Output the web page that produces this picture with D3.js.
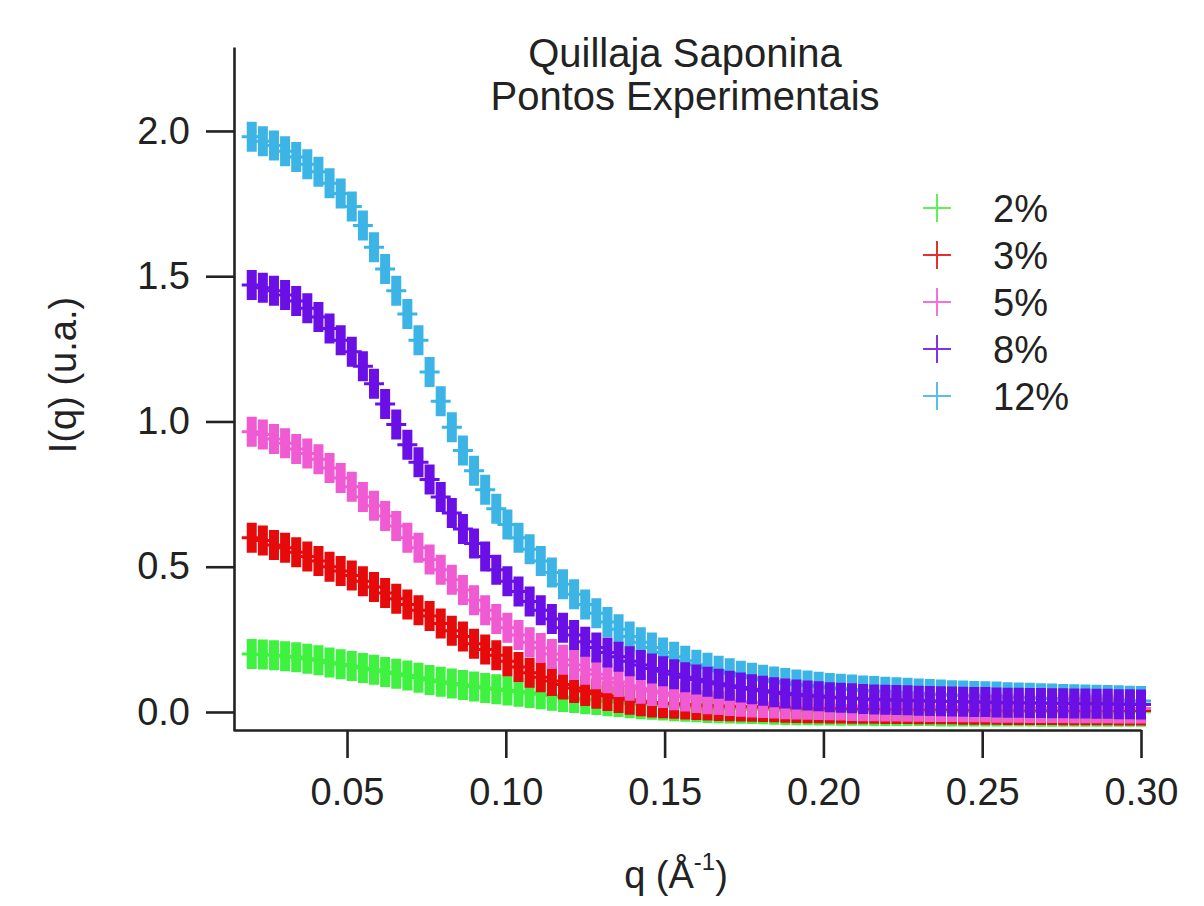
<!DOCTYPE html>
<html>
<head>
<meta charset="utf-8">
<script src="https://cdn.jsdelivr.net/npm/d3@7"></script>
<style>
  body { margin: 0; background: #fff; }
  text { font-family: "Liberation Sans", Arial, sans-serif; fill: #222; }
</style>
</head>
<body>
<script>
// q values (1/A)
var qValues = [
  0.0200, 0.0235, 0.0270, 0.0305, 0.0340, 0.0375, 0.0410, 0.0445, 0.0480, 0.0515,
  0.0550, 0.0585, 0.0620, 0.0655, 0.0690, 0.0725, 0.0760, 0.0795, 0.0830, 0.0865,
  0.0900, 0.0935, 0.0970, 0.1005, 0.1040, 0.1075, 0.1110, 0.1145, 0.1180, 0.1215,
  0.1250, 0.1285, 0.1320, 0.1355, 0.1390, 0.1425, 0.1460, 0.1495, 0.1530, 0.1565,
  0.1600, 0.1635, 0.1670, 0.1705, 0.1740, 0.1775, 0.1810, 0.1845, 0.1880, 0.1915,
  0.1950, 0.1985, 0.2020, 0.2055, 0.2090, 0.2125, 0.2160, 0.2195, 0.2230, 0.2265,
  0.2300, 0.2335, 0.2370, 0.2405, 0.2440, 0.2475, 0.2510, 0.2545, 0.2580, 0.2615,
  0.2650, 0.2685, 0.2720, 0.2755, 0.2790, 0.2825, 0.2860, 0.2895, 0.2930, 0.2965,
  0.3000
];

// I(q) for each concentration
var i2 = [
  0.200, 0.198, 0.195, 0.192, 0.188, 0.183, 0.178, 0.170, 0.164, 0.158,
  0.151, 0.145, 0.138, 0.132, 0.126, 0.118, 0.110, 0.104, 0.098, 0.093,
  0.088, 0.083, 0.078, 0.074, 0.070, 0.065, 0.061, 0.056, 0.052, 0.048,
  0.044, 0.041, 0.037, 0.034, 0.030, 0.027, 0.025, 0.022, 0.020, 0.018,
  0.016, 0.014, 0.013, 0.012, 0.011, 0.010, 0.009, 0.008, 0.007, 0.006,
  0.006, 0.005, 0.005, 0.004, 0.004, 0.004, 0.003, 0.003, 0.003, 0.003,
  0.003, 0.003, 0.002, 0.002, 0.002, 0.002, 0.002, 0.002, 0.002, 0.002,
  0.002, 0.001, 0.001, 0.001, 0.001, 0.001, 0.001, 0.001, 0.001, 0.001,
  0.001
];
var i3 = [
  0.600, 0.590, 0.575, 0.565, 0.550, 0.535, 0.520, 0.500, 0.485, 0.470,
  0.450, 0.430, 0.410, 0.390, 0.370, 0.350, 0.330, 0.305, 0.280, 0.260,
  0.235, 0.215, 0.195, 0.175, 0.155, 0.135, 0.120, 0.107, 0.095, 0.083,
  0.072, 0.063, 0.055, 0.048, 0.042, 0.037, 0.033, 0.030, 0.028, 0.026,
  0.024, 0.022, 0.021, 0.020, 0.019, 0.018, 0.017, 0.016, 0.015, 0.014,
  0.013, 0.013, 0.012, 0.012, 0.011, 0.011, 0.011, 0.010, 0.010, 0.010,
  0.009, 0.009, 0.009, 0.009, 0.008, 0.008, 0.008, 0.008, 0.007, 0.007,
  0.007, 0.007, 0.007, 0.006, 0.006, 0.006, 0.006, 0.006, 0.005, 0.005,
  0.005
];
var i5 = [
  0.965, 0.955, 0.940, 0.925, 0.905, 0.890, 0.870, 0.840, 0.805, 0.775,
  0.740, 0.710, 0.675, 0.640, 0.600, 0.565, 0.525, 0.490, 0.455, 0.420,
  0.385, 0.350, 0.320, 0.290, 0.265, 0.240, 0.220, 0.200, 0.180, 0.162,
  0.145, 0.130, 0.116, 0.103, 0.090, 0.080, 0.072, 0.065, 0.058, 0.053,
  0.048, 0.044, 0.041, 0.038, 0.035, 0.033, 0.031, 0.029, 0.027, 0.026,
  0.025, 0.024, 0.023, 0.022, 0.021, 0.020, 0.020, 0.019, 0.019, 0.018,
  0.018, 0.017, 0.017, 0.017, 0.016, 0.016, 0.016, 0.015, 0.015, 0.015,
  0.014, 0.014, 0.014, 0.014, 0.013, 0.013, 0.013, 0.013, 0.012, 0.012,
  0.012
];
var i8 = [
  1.470, 1.460, 1.450, 1.435, 1.415, 1.390, 1.360, 1.320, 1.280, 1.240,
  1.190, 1.130, 1.060, 0.990, 0.920, 0.860, 0.800, 0.740, 0.685, 0.630,
  0.580, 0.535, 0.490, 0.450, 0.415, 0.380, 0.350, 0.320, 0.290, 0.265,
  0.242, 0.222, 0.205, 0.190, 0.175, 0.162, 0.150, 0.140, 0.130, 0.120,
  0.112, 0.104, 0.097, 0.090, 0.084, 0.078, 0.073, 0.068, 0.064, 0.060,
  0.057, 0.054, 0.051, 0.049, 0.047, 0.045, 0.043, 0.042, 0.041, 0.040,
  0.039, 0.038, 0.037, 0.036, 0.035, 0.034, 0.034, 0.033, 0.032, 0.032,
  0.031, 0.031, 0.030, 0.030, 0.029, 0.029, 0.028, 0.028, 0.027, 0.027,
  0.026
];
var i12 = [
  1.980, 1.965, 1.950, 1.930, 1.910, 1.885, 1.860, 1.820, 1.785, 1.740,
  1.675, 1.600, 1.525, 1.450, 1.370, 1.280, 1.170, 1.070, 0.980, 0.900,
  0.830, 0.765, 0.700, 0.645, 0.600, 0.560, 0.520, 0.480, 0.440, 0.405,
  0.370, 0.340, 0.310, 0.285, 0.260, 0.240, 0.222, 0.205, 0.190, 0.176,
  0.163, 0.152, 0.142, 0.133, 0.125, 0.118, 0.111, 0.105, 0.100, 0.095,
  0.091, 0.087, 0.083, 0.080, 0.077, 0.074, 0.072, 0.070, 0.068, 0.066,
  0.064, 0.062, 0.060, 0.058, 0.057, 0.055, 0.054, 0.053, 0.051, 0.050,
  0.049, 0.047, 0.046, 0.045, 0.044, 0.043, 0.042, 0.041, 0.040, 0.039,
  0.038
];

var seriesNames = ['2%', '3%', '5%', '8%', '12%'];
var seriesValues = [i2, i3, i5, i8, i12];
var seriesColors = ['#3ff23f', '#e60a0a', '#f05ad2', '#6a10e6', '#3cb4e6'];
var drawOrder = [4, 0, 1, 2, 3];   // cyan underneath, purple on top

var xTicks = [0.05, 0.10, 0.15, 0.20, 0.25, 0.30];
var yTicks = [0.0, 0.5, 1.0, 1.5, 2.0];
var titleLines = ['Quillaja Saponina', 'Pontos Experimentais'];

var width = 1204, height = 906;

var svg = d3.select('body').append('svg')
  .attr('width', width)
  .attr('height', height);

var x = d3.scaleLinear().domain([0.0141, 0.30]).range([233, 1141]);
var y = d3.scaleLinear().domain([-0.062, 2.289]).range([730, 47]);

// plus-shaped marker: thick vertical bar, thin horizontal bar
var plusPath = 'M-5,-15H5V-1.5H10V1.5H5V15H-5V1.5H-10V-1.5H-5Z';

drawOrder.forEach(function(s) {
  var pts = qValues.map(function(q, i) { return { q: q, v: seriesValues[s][i] }; });
  svg.append('g')
    .selectAll('path')
    .data(pts)
    .enter().append('path')
    .attr('d', plusPath)
    .attr('fill', seriesColors[s])
    .attr('transform', function(d) { return 'translate(' + x(d.q) + ',' + y(d.v) + ')'; });
});

// axes
var xAxis = svg.append('g')
  .attr('transform', 'translate(0,730)')
  .call(d3.axisBottom(x).tickValues(xTicks).tickFormat(d3.format('.2f'))
    .tickSize(28).tickSizeOuter(0).tickPadding(20));

var yAxis = svg.append('g')
  .attr('transform', 'translate(234,0)')
  .call(d3.axisLeft(y).tickValues(yTicks).tickFormat(d3.format('.1f'))
    .tickSize(28).tickSizeOuter(0).tickPadding(16));

[xAxis, yAxis].forEach(function(a) {
  a.selectAll('path, line').attr('stroke', '#222').attr('stroke-width', 2.6);
  a.selectAll('text').attr('font-size', 38).attr('fill', '#222')
    .style('font-family', '"Liberation Sans", Arial, sans-serif');
});

// title
svg.selectAll('text.title')
  .data(titleLines)
  .enter().append('text')
  .attr('class', 'title')
  .attr('x', 685)
  .attr('y', function(d, i) { return 67 + i * 43; })
  .attr('text-anchor', 'middle')
  .attr('font-size', 40)
  .text(function(d) { return d; });

// legend
var legend = svg.append('g').attr('transform', 'translate(937,208)');
var rows = legend.selectAll('g')
  .data(seriesNames)
  .enter().append('g')
  .attr('transform', function(d, i) { return 'translate(0,' + (i * 47) + ')'; });
rows.append('path')
  .attr('d', 'M-14,0H14M0,-14V14')
  .attr('stroke', function(d, i) { return seriesColors[i]; })
  .attr('stroke-width', 2)
  .attr('opacity', 0.85);
rows.append('text')
  .attr('x', 56)
  .attr('dy', '0.36em')
  .attr('font-size', 38)
  .text(function(d) { return d; });

// axis labels
svg.append('text')
  .attr('transform', 'translate(76,375) rotate(-90)')
  .attr('text-anchor', 'middle')
  .attr('font-size', 38)
  .text('I(q) (u.a.)');

var xl = svg.append('text')
  .attr('x', 676)
  .attr('y', 888)
  .attr('text-anchor', 'middle')
  .attr('font-size', 38);
xl.append('tspan').text('q (Å');
xl.append('tspan').attr('font-size', 24).attr('dy', -18).text('-1');
xl.append('tspan').attr('dy', 18).text(')');
</script>
</body>
</html>
